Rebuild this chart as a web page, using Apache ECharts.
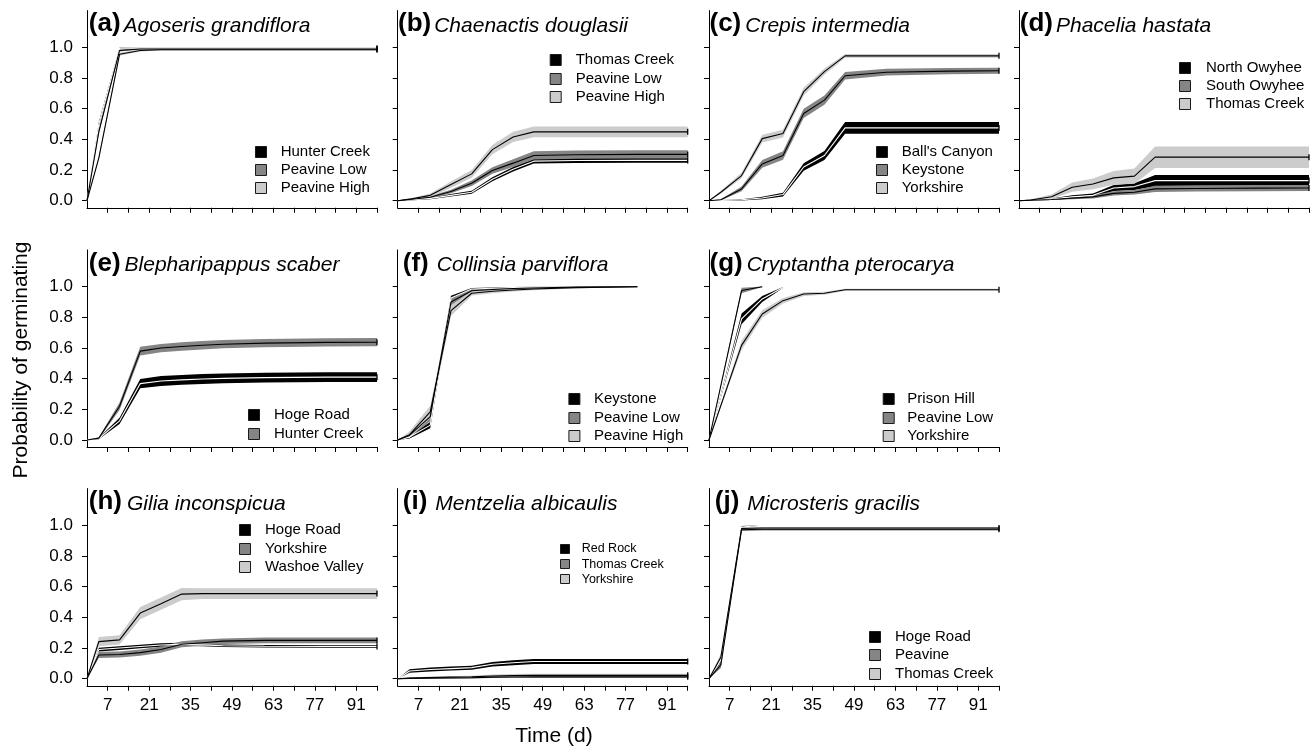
<!DOCTYPE html>
<html><head><meta charset="utf-8">
<script src="https://cdn.jsdelivr.net/npm/echarts@6/dist/echarts.min.js"></script>
<style>html,body{margin:0;padding:0;background:#fff}#c{width:1314px;height:748px}</style>
</head><body><div id="c"></div>
<script>
// ---------------- data ----------------
const days = [0, 4, 11, 18, 25, 32, 39, 46, 60, 81, 98];
const xTickValues = [7, 14, 21, 28, 35, 42, 49, 56, 63, 70, 77, 84, 91, 98];
const xTickLabels = [7, 21, 35, 49, 63, 77, 91];
const yTickValues = [0, 0.2, 0.4, 0.6, 0.8, 1.0];
const letters = ['a','b','c','d','e','f','g','h','i','j'];
const species = ['Agoseris grandiflora','Chaenactis douglasii','Crepis intermedia','Phacelia hastata',
  'Blepharipappus scaber','Collinsia parviflora','Cryptantha pterocarya','Gilia inconspicua',
  'Mentzelia albicaulis','Microsteris gracilis'];

const a_sites = ['Hunter Creek','Peavine Low','Peavine High'];
const a_mid1 = [0, 0.50, 0.995, 0.995, 0.995, 0.995, 0.995, 0.995, 0.995, 0.995, 0.995];
const a_ci1  = [0, 0.015, 0.004, 0.003, 0.003, 0.003, 0.003, 0.003, 0.003, 0.003, 0.003];
const a_mid2 = [0, 0.45, 0.98, 0.99, 0.99, 0.99, 0.99, 0.99, 0.99, 0.99, 0.99];
const a_ci2  = [0, 0.015, 0.006, 0.004, 0.004, 0.004, 0.004, 0.004, 0.004, 0.004, 0.004];
const a_mid3 = [0, 0.28, 0.955, 0.98, 0.985, 0.985, 0.985, 0.985, 0.985, 0.985, 0.985];
const a_ci3  = [0, 0.015, 0.01, 0.006, 0.005, 0.005, 0.005, 0.005, 0.005, 0.005, 0.005];

const b_sites = ['Thomas Creek','Peavine Low','Peavine High'];
const b_mid1 = [0, 0.005, 0.015, 0.035, 0.055, 0.14, 0.205, 0.258, 0.262, 0.263, 0.263];
const b_ci1  = [0, 0.003, 0.006, 0.008, 0.01, 0.013, 0.015, 0.016, 0.016, 0.016, 0.016];
const b_mid2 = [0, 0.008, 0.022, 0.06, 0.114, 0.197, 0.245, 0.295, 0.3, 0.302, 0.302];
const b_ci2  = [0, 0.004, 0.008, 0.012, 0.018, 0.022, 0.025, 0.027, 0.027, 0.027, 0.027];
const b_mid3 = [0, 0.01, 0.035, 0.105, 0.175, 0.333, 0.416, 0.449, 0.449, 0.449, 0.449];
const b_ci3  = [0, 0.005, 0.012, 0.02, 0.025, 0.03, 0.033, 0.035, 0.035, 0.035, 0.035];

const c_sites = ["Ball's Canyon",'Keystone','Yorkshire'];
const c_mid1 = [0, 0.002, 0.006, 0.018, 0.04, 0.22, 0.295, 0.475, 0.475, 0.475, 0.475];
const c_ci1  = [0, 0.002, 0.004, 0.008, 0.012, 0.025, 0.03, 0.038, 0.038, 0.038, 0.038];
const c_mid2 = [0, 0.006, 0.077, 0.24, 0.295, 0.569, 0.656, 0.815, 0.838, 0.845, 0.848];
const c_ci2  = [0, 0.004, 0.015, 0.025, 0.028, 0.03, 0.03, 0.025, 0.022, 0.02, 0.02];
const c_mid3 = [0, 0.055, 0.164, 0.405, 0.438, 0.711, 0.842, 0.945, 0.945, 0.945, 0.945];
const c_ci3  = [0, 0.01, 0.018, 0.025, 0.025, 0.025, 0.02, 0.012, 0.012, 0.012, 0.012];

const d_sites = ['North Owyhee','South Owyhee','Thomas Creek'];
const d_mid1 = [0, 0.003, 0.01, 0.025, 0.035, 0.083, 0.092, 0.131, 0.131, 0.131, 0.131];
const d_ci1  = [0, 0.002, 0.005, 0.01, 0.012, 0.02, 0.022, 0.036, 0.036, 0.036, 0.036];
const d_mid2 = [0, 0.003, 0.008, 0.017, 0.025, 0.048, 0.055, 0.077, 0.08, 0.082, 0.083];
const d_ci2  = [0, 0.002, 0.004, 0.008, 0.01, 0.014, 0.015, 0.02, 0.02, 0.02, 0.02];
const d_mid3 = [0, 0.005, 0.026, 0.088, 0.109, 0.149, 0.16, 0.284, 0.284, 0.284, 0.284];
const d_ci3  = [0, 0.005, 0.015, 0.03, 0.035, 0.045, 0.05, 0.07, 0.07, 0.07, 0.07];

const e_sites = ['Hoge Road','Hunter Creek'];
const e_mid1 = [0, 0.01, 0.125, 0.368, 0.385, 0.392, 0.398, 0.402, 0.407, 0.41, 0.41];
const e_ci1  = [0, 0.005, 0.02, 0.03, 0.032, 0.032, 0.032, 0.032, 0.032, 0.032, 0.032];
const e_mid2 = [0, 0.012, 0.22, 0.58, 0.6, 0.61, 0.618, 0.625, 0.632, 0.637, 0.638];
const e_ci2  = [0, 0.006, 0.025, 0.028, 0.027, 0.027, 0.027, 0.027, 0.027, 0.027, 0.027];

const f_sites = ['Keystone','Peavine Low','Peavine High'];
const f_mid1 = [0, 0.02, 0.097, 0.926, 0.985, 0.99, 0.995, 0.998, 1.0, null, null];
const f_ci1  = [0, 0.01, 0.02, 0.015, 0.006, 0.004, 0.003, 0.002, 0.001, null, null];
const f_mid2 = [0, 0.03, 0.152, 0.9, 0.974, 0.982, 0.988, 0.992, 0.997, 1.0, null];
const f_ci2  = [0, 0.015, 0.03, 0.025, 0.01, 0.008, 0.006, 0.005, 0.003, 0.001, null];
const f_mid3 = [0, 0.035, 0.184, 0.844, 0.957, 0.97, 0.978, 0.985, 0.994, 1.0, null];
const f_ci3  = [0, 0.02, 0.04, 0.035, 0.015, 0.012, 0.01, 0.008, 0.005, 0.002, null];

const g_sites = ['Prison Hill','Peavine Low','Yorkshire'];
const g_mid1 = [0, null, 0.79, 0.92, 0.995, null, null, null, null, null, null];
const g_ci1  = [0, null, 0.035, 0.02, 0.003, null, null, null, null, null, null];
const g_mid2 = [0, null, 0.975, 1.0, null, null, null, null, null, null, null];
const g_ci2  = [0, null, 0.018, 0.002, null, null, null, null, null, null, null];
const g_mid3 = [0, null, 0.617, 0.822, 0.909, 0.952, 0.957, 0.98, 0.98, 0.98, 0.98];
const g_ci3  = [0, null, 0.03, 0.025, 0.018, 0.012, 0.01, 0.006, 0.006, 0.006, 0.006];

const h_sites = ['Hoge Road','Yorkshire','Washoe Valley'];
const h_mid1 = [0, 0.19, 0.2, 0.21, 0.22, 0.225, 0.22, 0.215, 0.212, 0.21, 0.21];
const h_ci1  = [0, 0.012, 0.012, 0.012, 0.012, 0.01, 0.008, 0.008, 0.008, 0.008, 0.008];
const h_mid2 = [0, 0.155, 0.158, 0.17, 0.19, 0.225, 0.235, 0.245, 0.25, 0.25, 0.25];
const h_ci2  = [0, 0.02, 0.02, 0.02, 0.02, 0.02, 0.02, 0.018, 0.018, 0.018, 0.018];
const h_mid3 = [0, 0.242, 0.253, 0.428, 0.489, 0.552, 0.555, 0.555, 0.555, 0.555, 0.555];
const h_ci3  = [0, 0.03, 0.03, 0.04, 0.04, 0.04, 0.035, 0.035, 0.035, 0.035, 0.035];

const i_sites = ['Red Rock','Thomas Creek','Yorkshire'];
const i_mid1 = [0, 0.05, 0.06, 0.066, 0.072, 0.094, 0.104, 0.112, 0.112, 0.112, 0.112];
const i_ci1  = [0, 0.012, 0.013, 0.013, 0.013, 0.015, 0.016, 0.016, 0.016, 0.016, 0.016];
const i_mid2 = [0, 0.002, 0.004, 0.005, 0.006, 0.01, 0.011, 0.012, 0.012, 0.012, 0.012];
const i_ci2  = [0, 0.002, 0.003, 0.003, 0.004, 0.005, 0.005, 0.005, 0.005, 0.005, 0.005];
const i_mid3 = [0, 0.004, 0.008, 0.01, 0.012, 0.018, 0.02, 0.022, 0.022, 0.022, 0.022];
const i_ci3  = [0, 0.004, 0.006, 0.007, 0.008, 0.009, 0.01, 0.01, 0.01, 0.01, 0.01];

const j_sites = ['Hoge Road','Peavine','Thomas Creek'];
const j_mid1 = [0, 0.12, 0.99, 1.0, null, null, null, null, null, null, null];
const j_ci1  = [0, 0.02, 0.006, 0.001, null, null, null, null, null, null, null];
const j_mid2 = [0, 0.09, 0.972, 0.975, 0.975, 0.975, 0.975, 0.975, 0.975, 0.975, 0.975];
const j_ci2  = [0, 0.02, 0.008, 0.008, 0.008, 0.008, 0.008, 0.008, 0.008, 0.008, 0.008];
const j_mid3 = [0, 0.14, 0.98, 0.983, 0.983, 0.983, 0.983, 0.983, 0.983, 0.983, 0.983];
const j_ci3  = [0, 0.025, 0.008, 0.007, 0.007, 0.007, 0.007, 0.007, 0.007, 0.007, 0.007];

// ---------------- layout / style ----------------
const FONT = "'Liberation Sans', Arial, Helvetica, sans-serif";
const bandColors = ['#000000', '#858585', '#cccccc'];
const lineColors = ['#ffffff', '#000000', '#000000'];
const colLeft = [87, 397.7, 709, 1019];
const rowZero = [200.7, 440, 678.7];
const PX = 153.3;             // pixels per probability unit
const YMIN = -0.046, YMAX = 1.24;
const PW = 290;
const panelRC = [[0,0],[0,1],[0,2],[0,3],[1,0],[1,1],[1,2],[2,0],[2,1],[2,2]];
const titleDx = [3, 1.5, 1.7, 2, 3, 6.3, 1.7, 3, 6.3, 7];
const titleGap = [3, 3, 4, 3, 4, 8, 4, 5, 8, 8];
// legend: [squareDx, textDx, row y offsets from zero line, square size, font size]
const legendLayout = [
  [168, 193.7, [-49, -30.7, -12.4], 12, 15],
  [152, 178, [-140.7, -122, -104], 12, 15],
  [167, 192.7, [-49, -30.7, -12.4], 12, 15],
  [160, 187, [-132.4, -114.7, -96.7], 12, 15],
  [161, 187, [-25, -6], 12, 15],
  [170.7, 196.3, [-41, -22.3, -4], 12, 15],
  [173.7, 198.3, [-41, -22.3, -4], 12, 15],
  [152, 178, [-148.7, -130, -111.4], 12, 15],
  [162.3, 184, [-129.7, -114.4, -99.4], 10, 12.5],
  [160, 186, [-42, -23.7, -4.7], 12, 15]
];

const panels = [
  {sites: a_sites, mids: [a_mid1, a_mid2, a_mid3], cis: [a_ci1, a_ci2, a_ci3]},
  {sites: b_sites, mids: [b_mid1, b_mid2, b_mid3], cis: [b_ci1, b_ci2, b_ci3]},
  {sites: c_sites, mids: [c_mid1, c_mid2, c_mid3], cis: [c_ci1, c_ci2, c_ci3]},
  {sites: d_sites, mids: [d_mid1, d_mid2, d_mid3], cis: [d_ci1, d_ci2, d_ci3]},
  {sites: e_sites, mids: [e_mid1, e_mid2], cis: [e_ci1, e_ci2]},
  {sites: f_sites, mids: [f_mid1, f_mid2, f_mid3], cis: [f_ci1, f_ci2, f_ci3]},
  {sites: g_sites, mids: [g_mid1, g_mid2, g_mid3], cis: [g_ci1, g_ci2, g_ci3]},
  {sites: h_sites, mids: [h_mid1, h_mid2, h_mid3], cis: [h_ci1, h_ci2, h_ci3]},
  {sites: i_sites, mids: [i_mid1, i_mid2, i_mid3], cis: [i_ci1, i_ci2, i_ci3]},
  {sites: j_sites, mids: [j_mid1, j_mid2, j_mid3], cis: [j_ci1, j_ci2, j_ci3]}
];

const mctx = document.createElement('canvas').getContext('2d');
function textWidth(font, s) { mctx.font = font; return mctx.measureText(s).width; }

const grids = [], xAxes = [], yAxes = [], series = [], graphics = [];

panels.forEach((p, gi) => {
  const [r, c] = panelRC[gi];
  const left = colLeft[c], y0 = rowZero[r];
  grids.push({left: left, top: y0 - YMAX * PX, width: PW, height: (YMAX - YMIN) * PX, containLabel: false});
  xAxes.push({
    gridIndex: gi, type: 'value', min: 0, max: 98, interval: 7,
    axisLine: {onZero: false, lineStyle: {color: '#000', width: 1}},
    axisTick: {show: true, length: 5, customValues: xTickValues, lineStyle: {color: '#000', width: 1}},
    axisLabel: {show: r === 2, customValues: xTickLabels, fontSize: 17, fontFamily: FONT, color: '#000', margin: 11},
    splitLine: {show: false}
  });
  yAxes.push({
    gridIndex: gi, type: 'value', min: YMIN, max: YMAX,
    axisLine: {show: true, onZero: false, lineStyle: {color: '#000', width: 1}},
    axisTick: {show: true, length: 5, customValues: yTickValues, lineStyle: {color: '#000', width: 1}},
    axisLabel: {show: c === 0, customValues: yTickValues, formatter: v => v.toFixed(1),
      fontSize: 17, fontFamily: FONT, color: '#000', margin: 14},
    splitLine: {show: false}
  });

  // bands
  p.mids.forEach((mid, k) => {
    const ci = p.cis[k];
    const pts = [];
    days.forEach((d, t) => { if (mid[t] != null) pts.push([d, mid[t] - ci[t], mid[t] + ci[t]]); });
    series.push({
      type: 'custom', name: p.sites[k], xAxisIndex: gi, yAxisIndex: gi, silent: true, clip: true,
      data: pts, encode: {x: 0, y: [1, 2]}, animation: false,
      renderItem: (params, api) => {
        if (params.dataIndex !== 0) return null;
        const up = pts.map(q => api.coord([q[0], q[2]]));
        const lo = pts.map(q => api.coord([q[0], q[1]])).reverse();
        return {type: 'polygon', shape: {points: up.concat(lo)}, style: {fill: bandColors[k], stroke: null}};
      }
    });
  });
  // centre lines
  p.mids.forEach((mid, k) => {
    const data = [];
    days.forEach((d, t) => { if (mid[t] != null) data.push({value: [d, mid[t]]}); });
    const last = data[data.length - 1];
    if (last.value[0] === 98) { last.symbol = 'rect'; last.symbolSize = [1.3, 6]; last.itemStyle = {color: '#000'}; }
    series.push({
      type: 'line', name: p.sites[k], xAxisIndex: gi, yAxisIndex: gi, silent: true,
      data: data, symbol: 'none', showSymbol: true, showAllSymbol: true, animation: false,
      lineStyle: {color: lineColors[k], width: 1.1}, z: 3
    });
  });

  // title
  const bFont = 'bold 26px ' + FONT, iFont = 'italic 21px ' + FONT;
  const base = y0 - 168.5;
  const lab = '(' + letters[gi] + ')';
  const tx = left + titleDx[gi] - 1.2;
  graphics.push({type: 'text', x: tx, y: base - 0.31 * 26, silent: true,
    style: {text: lab, font: bFont, fill: '#000', align: 'left', verticalAlign: 'middle'}});
  graphics.push({type: 'text', x: tx + textWidth(bFont, lab) + titleGap[gi], y: base - 0.31 * 21, silent: true,
    style: {text: species[gi], font: iFont, fill: '#000', align: 'left', verticalAlign: 'middle'}});

  // legend
  const L = legendLayout[gi];
  p.sites.forEach((s, k) => {
    const cy = y0 + L[2][k];
    const sz = L[3];
    graphics.push({type: 'rect', silent: true,
      shape: {x: left + L[0] + 0.5, y: Math.round(cy - sz / 2) + 0.5, width: sz - 1, height: sz - 1},
      style: {fill: bandColors[k], stroke: '#1a1a1a', lineWidth: 1}});
    graphics.push({type: 'text', x: left + L[1], y: cy, silent: true,
      style: {text: s, font: L[4] + 'px ' + FONT, fill: '#000', align: 'left', verticalAlign: 'middle'}});
  });
});

graphics.push({type: 'text', x: 21, y: 360, rotation: Math.PI / 2, silent: true,
  style: {text: 'Probability of germinating', font: '21px ' + FONT, fill: '#000', align: 'center', verticalAlign: 'middle'}});
graphics.push({type: 'text', x: 554, y: 736, silent: true,
  style: {text: 'Time (d)', font: '21px ' + FONT, fill: '#000', align: 'center', verticalAlign: 'middle'}});

const chart = echarts.init(document.getElementById('c'), null, {renderer: 'canvas'});
chart.setOption({
  backgroundColor: '#ffffff',
  animation: false,
  grid: grids, xAxis: xAxes, yAxis: yAxes, series: series,
  graphic: {elements: graphics}
});
</script></body></html>
